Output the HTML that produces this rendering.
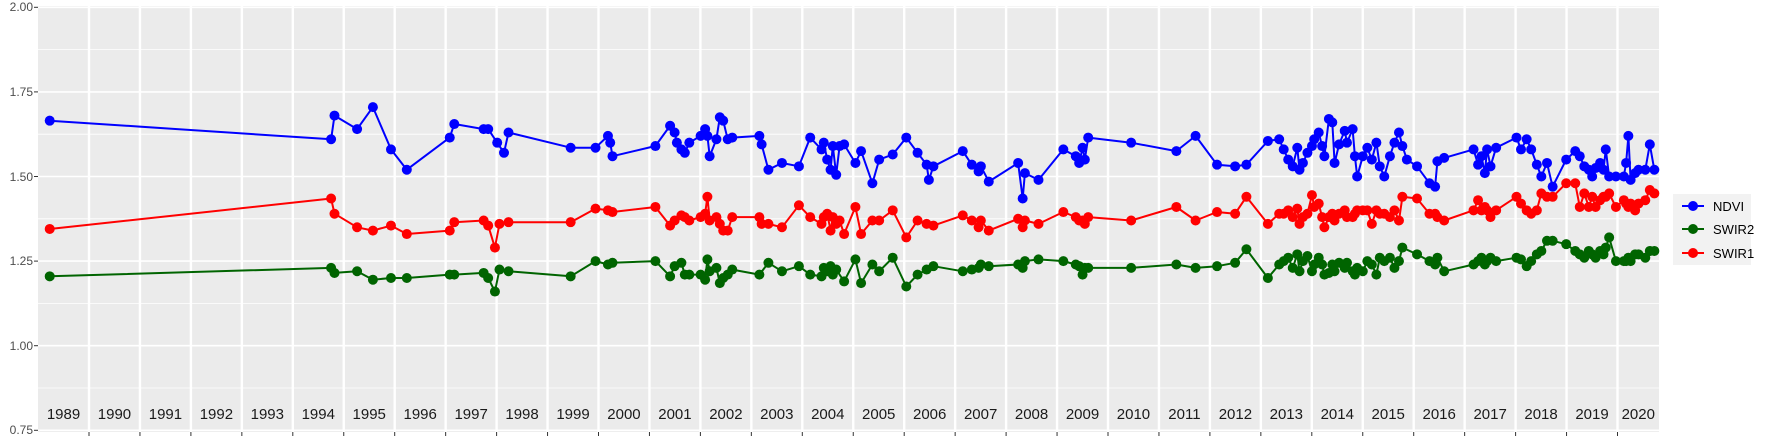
<!DOCTYPE html>
<html><head><meta charset="utf-8"><style>
html,body{margin:0;padding:0;background:#fff;}
svg{display:block;font-family:"Liberation Sans",sans-serif;}
</style></head><body>
<svg id="s" width="1773" height="442" xmlns="http://www.w3.org/2000/svg">
<rect x="38" y="6" width="1621" height="426" fill="#EBEBEB"/>
<g id="grid"></g>
<g id="data"></g>
<g font-size="12" fill="#4D4D4D" text-anchor="end">
<text x="33" y="11">2.00</text>
<text x="33" y="96">1.75</text>
<text x="33" y="181">1.50</text>
<text x="33" y="265">1.25</text>
<text x="33" y="350">1.00</text>
<text x="33" y="434">0.75</text>
</g>
<g id="years" font-size="15" fill="#1a1a1a" text-anchor="middle"></g>
<rect x="1673" y="194" width="78" height="71" fill="#F2F2F2"/>
<g font-size="13" fill="#000">
<line x1="1682" y1="206" x2="1704" y2="206" stroke="#0000FF" stroke-width="2"/><circle cx="1693" cy="206" r="5" fill="#0000FF"/><text x="1713" y="211">NDVI</text>
<line x1="1682" y1="229" x2="1704" y2="229" stroke="#006400" stroke-width="2"/><circle cx="1693" cy="229" r="5" fill="#006400"/><text x="1713" y="234">SWIR2</text>
<line x1="1682" y1="253" x2="1704" y2="253" stroke="#FF0000" stroke-width="2"/><circle cx="1693" cy="253" r="5" fill="#FF0000"/><text x="1713" y="258">SWIR1</text>
</g>
</svg>
<script>
var NS="http://www.w3.org/2000/svg";
function el(p,t,a){var e=document.createElementNS(NS,t);for(var k in a)e.setAttribute(k,a[k]);p.appendChild(e);return e;}
function Y(v){return 7.3+(2-v)*338.4;}
var g=document.getElementById('grid');
for(var v=0.875;v<2;v+=0.25)el(g,'line',{x1:38,x2:1659,y1:Y(v),y2:Y(v),stroke:'#fff','stroke-width':0.8});
for(var v=0.75;v<=2.001;v+=0.25){el(g,'line',{x1:38,x2:1659,y1:Y(v),y2:Y(v),stroke:'#fff','stroke-width':1.6});
 el(document.getElementById('s'),'line',{x1:34,x2:38,y1:Y(v),y2:Y(v),stroke:'#333','stroke-width':1});}
var yrs=document.getElementById('years');
var bounds=[38];for(var k=0;k<=30;k++)bounds.push(89+50.95*k);bounds.push(1659);
for(var k=0;k<=30;k++){var x=89+50.95*k;el(g,'line',{x1:x,x2:x,y1:6,y2:432,stroke:'#fff','stroke-width':2.4});
 el(document.getElementById('s'),'line',{x1:x,x2:x,y1:432,y2:436,stroke:'#333','stroke-width':1});}
for(var i=0;i<32;i++){var t=el(yrs,'text',{x:(bounds[i]+bounds[i+1])/2,y:419});t.textContent=1989+i;}
var N="44,1.665,293,1.61,296,1.68,316,1.64,330,1.705,346,1.58,360,1.52,398,1.615,402,1.655,428,1.64,432,1.64,440,1.60,446,1.57,450,1.63,505,1.585,527,1.585,538,1.62,540,1.60,542,1.56,580,1.59,593,1.65,597,1.63,599,1.60,603,1.58,606,1.57,610,1.60,620,1.62,624,1.64,626,1.62,628,1.56,634,1.61,637,1.675,640,1.665,644,1.61,648,1.615,672,1.62,674,1.595,680,1.52,692,1.54,707,1.53,717,1.615,727,1.58,729,1.60,732,1.55,735,1.52,737,1.59,740,1.505,743,1.59,747,1.595,757,1.54,762,1.575,772,1.48,778,1.55,790,1.565,802,1.615,812,1.57,820,1.535,822,1.49,826,1.53,852,1.575,860,1.535,866,1.515,868,1.53,875,1.485,901,1.54,905,1.435,907,1.51,919,1.49,941,1.58,952,1.56,955,1.54,958,1.585,960,1.55,963,1.615,1001,1.6,1041,1.575,1058,1.62,1077,1.535,1093,1.53,1103,1.535,1122,1.605,1132,1.61,1136,1.58,1140,1.55,1144,1.53,1148,1.585,1150,1.52,1153,1.54,1157,1.57,1161,1.59,1163,1.61,1167,1.63,1170,1.59,1172,1.56,1176,1.67,1179,1.66,1181,1.54,1185,1.595,1190,1.635,1192,1.6,1197,1.64,1199,1.56,1201,1.5,1206,1.56,1210,1.585,1214,1.55,1218,1.6,1221,1.53,1225,1.5,1230,1.56,1234,1.6,1238,1.63,1241,1.59,1245,1.55,1254,1.53,1265,1.48,1270,1.47,1272,1.545,1278,1.555,1304,1.58,1308,1.535,1311,1.56,1314,1.51,1316,1.58,1319,1.53,1324,1.585,1342,1.615,1346,1.58,1351,1.61,1355,1.58,1360,1.535,1364,1.50,1369,1.54,1374,1.47,1386,1.55,1394,1.575,1398,1.56,1402,1.53,1406,1.52,1409,1.50,1412,1.525,1416,1.54,1419,1.52,1421,1.58,1424,1.50,1430,1.50,1437,1.50,1439,1.54,1441,1.62,1443,1.49,1447,1.51,1450,1.52,1456,1.52,1460,1.595,1464,1.52";
var R="44,1.345,293,1.435,296,1.39,316,1.35,330,1.34,346,1.355,360,1.33,398,1.34,402,1.365,428,1.37,432,1.355,438,1.29,442,1.36,450,1.365,505,1.365,527,1.405,538,1.40,542,1.395,580,1.41,593,1.355,597,1.37,603,1.385,606,1.38,610,1.37,620,1.38,624,1.39,626,1.44,628,1.37,634,1.38,637,1.36,640,1.34,644,1.34,648,1.38,672,1.38,674,1.36,680,1.36,692,1.35,707,1.415,717,1.38,727,1.36,729,1.38,732,1.39,735,1.34,737,1.38,740,1.36,743,1.37,747,1.33,757,1.41,762,1.33,772,1.37,778,1.37,790,1.40,802,1.32,812,1.37,820,1.36,826,1.355,852,1.385,860,1.37,866,1.35,868,1.37,875,1.34,901,1.375,905,1.35,907,1.37,919,1.36,941,1.395,952,1.38,955,1.37,958,1.37,960,1.36,963,1.38,1001,1.37,1041,1.41,1058,1.37,1077,1.395,1093,1.39,1103,1.44,1122,1.36,1132,1.39,1136,1.39,1140,1.40,1144,1.38,1148,1.405,1150,1.36,1153,1.38,1157,1.39,1161,1.445,1163,1.41,1167,1.42,1170,1.38,1172,1.35,1176,1.38,1179,1.39,1181,1.37,1185,1.39,1190,1.4,1192,1.38,1197,1.38,1199,1.39,1201,1.40,1206,1.40,1210,1.40,1214,1.36,1218,1.40,1221,1.39,1225,1.39,1230,1.38,1234,1.40,1238,1.37,1241,1.44,1254,1.435,1265,1.39,1270,1.39,1272,1.38,1278,1.37,1304,1.40,1308,1.43,1311,1.40,1314,1.41,1316,1.40,1319,1.38,1324,1.40,1342,1.44,1346,1.42,1351,1.40,1355,1.39,1360,1.40,1364,1.45,1369,1.44,1374,1.44,1386,1.48,1394,1.48,1398,1.41,1402,1.45,1406,1.41,1409,1.44,1412,1.41,1416,1.43,1419,1.44,1421,1.44,1424,1.45,1430,1.41,1437,1.43,1439,1.42,1441,1.41,1443,1.42,1447,1.40,1450,1.42,1456,1.43,1460,1.46,1464,1.45";
var G="44,1.205,293,1.23,296,1.215,316,1.22,330,1.195,346,1.2,360,1.2,398,1.21,402,1.21,428,1.215,432,1.2,438,1.16,442,1.225,450,1.22,505,1.205,527,1.25,538,1.24,542,1.245,580,1.25,593,1.205,597,1.235,603,1.245,606,1.21,610,1.21,620,1.21,624,1.195,626,1.255,628,1.22,634,1.23,637,1.185,640,1.20,644,1.21,648,1.225,672,1.21,680,1.245,692,1.22,707,1.235,717,1.21,727,1.205,729,1.23,732,1.22,735,1.235,737,1.21,740,1.225,747,1.19,757,1.255,762,1.185,772,1.24,778,1.22,790,1.26,802,1.175,812,1.21,820,1.225,826,1.235,852,1.22,860,1.225,866,1.23,868,1.24,875,1.235,901,1.24,905,1.23,907,1.25,919,1.255,941,1.25,952,1.24,955,1.235,958,1.21,960,1.23,963,1.23,1001,1.23,1041,1.24,1058,1.23,1077,1.235,1093,1.245,1103,1.285,1122,1.20,1132,1.24,1136,1.25,1140,1.26,1144,1.23,1148,1.27,1150,1.22,1153,1.25,1157,1.265,1161,1.22,1163,1.24,1167,1.26,1170,1.24,1172,1.21,1176,1.215,1179,1.24,1181,1.22,1185,1.245,1190,1.23,1192,1.245,1197,1.22,1199,1.21,1201,1.23,1206,1.22,1210,1.25,1214,1.24,1218,1.21,1221,1.26,1225,1.25,1230,1.26,1234,1.23,1238,1.25,1241,1.29,1254,1.27,1265,1.25,1270,1.24,1272,1.26,1278,1.22,1304,1.24,1308,1.25,1311,1.26,1314,1.24,1316,1.25,1319,1.26,1324,1.25,1342,1.26,1346,1.255,1351,1.235,1355,1.25,1360,1.27,1364,1.28,1369,1.31,1374,1.31,1386,1.30,1394,1.28,1398,1.27,1402,1.26,1406,1.28,1409,1.27,1412,1.26,1416,1.28,1419,1.27,1421,1.29,1424,1.32,1430,1.25,1437,1.25,1439,1.25,1441,1.26,1443,1.25,1447,1.27,1450,1.27,1456,1.26,1460,1.28,1464,1.28";
var d=document.getElementById('data');
function draw(str,col){var a=str.split(',').map(Number),pts=[];
 for(var i=0;i<a.length;i+=2)pts.push([a[i]*1773/1569,Y(a[i+1])]);
 el(d,'polyline',{points:pts.map(p=>p[0].toFixed(1)+','+p[1].toFixed(1)).join(' '),fill:'none',stroke:col,'stroke-width':2,'stroke-linejoin':'round'});
 pts.forEach(p=>el(d,'circle',{cx:p[0],cy:p[1],r:5,fill:col}));}
draw(N,'#0000FF');draw(G,'#006400');draw(R,'#FF0000');
</script>
</body></html>
